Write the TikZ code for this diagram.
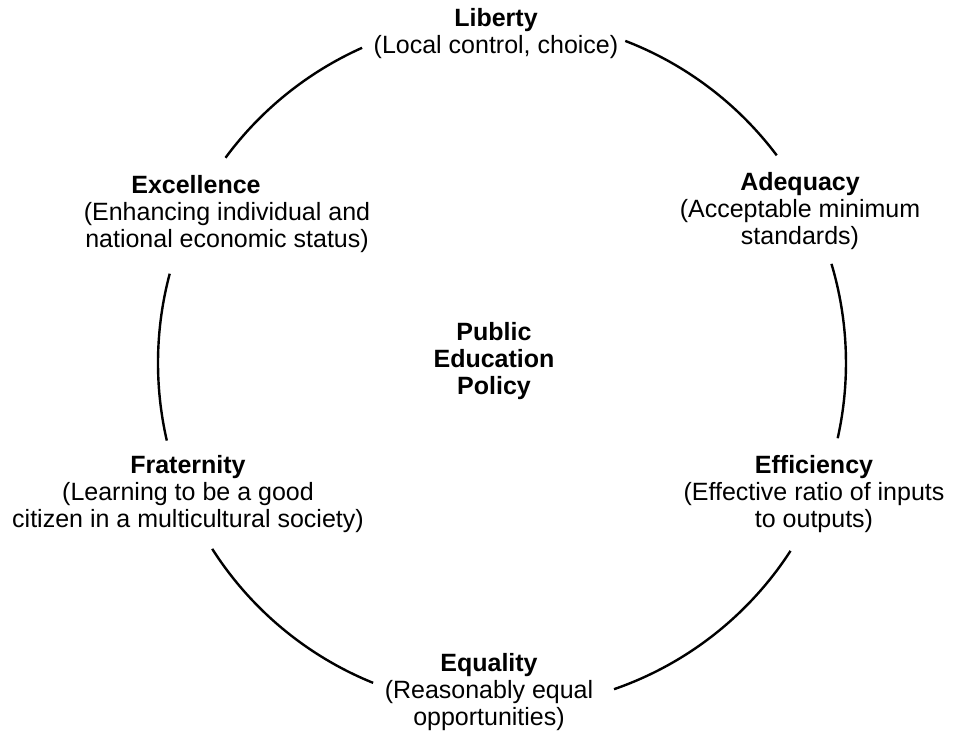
\documentclass[tikz,border=0pt]{standalone}
\usepackage{fontspec}
\setmainfont{Liberation Sans}

\begin{document}
\begin{tikzpicture}[x=0.5pt,y=0.5pt,
    value/.style={align=center,inner sep=0pt,font=\fontsize{12.5}{13.5}\selectfont}]
    \useasboundingbox (0,0) rectangle (955,738);
    \coordinate (c) at (502,375);
    % centre and the six values
    \node[value] (policy) at (494,377) {\textbf{Public}\\\textbf{Education}\\\textbf{Policy}};
    \node[value] (liberty) at (496,704) {\textbf{Liberty}\\(Local control, choice)};
    \node[value] (adequacy) at (800,527) {\textbf{Adequacy}\\(Acceptable minimum\\standards)};
    \node[value] (efficiency) at (814,244) {\textbf{Efficiency}\\(Effective ratio of inputs\\to outputs)};
    \node[value] (equality) at (489,46) {\textbf{Equality}\\(Reasonably equal\\opportunities)};
    \node[value] (fraternity) at (188,244) {\textbf{Fraternity}\\(Learning to be a good\\citizen in a multicultural society)};
    \node[value] (excellence) at (227,524) {\textbf{Excellence}\hspace*{31pt}\\(Enhancing individual and\\national economic status)};
    %Arcs
    \foreach \a/\b in {143.5/114, 69/37, 16.7/-12.6, -33/-71, -112/-147.4, 193/165}
        \draw[line width=1.2pt] (c) ++(\a:344 and 345) arc[start angle=\a, end angle=\b, x radius=344, y radius=345];
\end{tikzpicture}
\end{document}
